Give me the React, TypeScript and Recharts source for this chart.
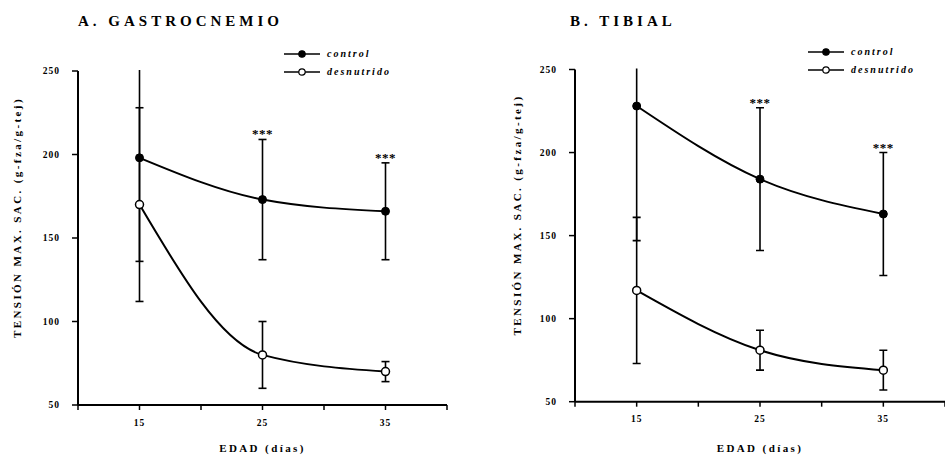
import React from 'react';
import { LineChart, Line, XAxis, YAxis, ErrorBar, ReferenceDot, Legend } from 'recharts';

// ---- data ----
const days = [15, 25, 35];
const xTicks = [10, 15, 20, 25, 30, 35, 40];
const xTickLabels: Record<number, string> = { 15: '15', 25: '25', 35: '35' };
const yTicks = [50, 100, 150, 200, 250];
const seriesNames = ['control', 'desnutrido'];

const gastroControl = [198, 173, 166];
const gastroControlErr = [62, 36, 29];
const gastroDesn = [170, 80, 70];
const gastroDesnErr = [58, 20, 6];
const gastroSig = [false, true, true];

const tibialControl = [228, 184, 163];
const tibialControlErr = [81, 43, 37];
const tibialDesn = [117, 81, 69];
const tibialDesnErr = [44, 12, 12];
const tibialSig = [false, true, true];

const yLabelText = 'TENSIÓN MAX. SAC. (g-fza/g-tej)';
const xLabelText = 'EDAD (días)';

const FONT = '"Liberation Serif", "Times New Roman", serif';
const Y_AXIS_W = 40;
const X_AXIS_H = 30;
const CHART_H = 456;

const buildRows = (c: number[], ce: number[], n: number[], ne: number[]) =>
  days.map((d, i) => ({ day: d, control: c[i], controlErr: ce[i], desn: n[i], desnErr: ne[i] }));

const YTick = (props: any) => {
  const { x, y, payload } = props;
  return (
    <text x={x} y={y} textAnchor="end" dominantBaseline="central" fontFamily={FONT} fontSize={9.5} fontWeight="bold" fill="#000" letterSpacing={1}>
      {payload.value}
    </text>
  );
};

const XTick = (props: any) => {
  const { x, y, payload } = props;
  const lab = xTickLabels[payload.value];
  if (!lab) return <g />;
  return (
    <text x={x} y={y} dy="0.71em" textAnchor="middle" fontFamily={FONT} fontSize={9.5} fontWeight="bold" fill="#000" letterSpacing={1}>
      {lab}
    </text>
  );
};

const StarLabel = (props: any) => {
  const vb = props.viewBox || {};
  const cx = (vb.x ?? 0) + (vb.width ?? 0) / 2;
  const cy = vb.y ?? 0;
  return (
    <text x={cx} y={cy - 1} textAnchor="middle" fontFamily={FONT} fontSize={13} fontWeight="bold" fill="#000" letterSpacing={0.5}>
      ***
    </text>
  );
};

type PanelProps = {
  id: string;
  title: string;
  rows: any[];
  sig: boolean[];
  left: number;
  width: number;
  plot: { top: number; right: number; bottom: number; left: number };
  yLabelDx: number;
  yLabelDy: number;
  xLabelDy: number;
  legendLeft: number;
  legendTop: number;
  titleLeft: number;
};

const LegendBox = () => (
  <div style={{ fontFamily: FONT }}>
    {seriesNames.map((name, i) => (
      <div key={name} style={{ display: 'flex', alignItems: 'center', height: 18 }}>
        <svg width={36} height={10} style={{ display: 'block' }}>
          <line x1={0} y1={5} x2={36} y2={5} stroke="#000" strokeWidth={1.5} />
          <circle cx={18} cy={5} r={3.2} fill={i === 0 ? '#000' : '#fff'} stroke="#000" strokeWidth={1.2} />
        </svg>
        <span style={{ marginLeft: 7, fontSize: 10, fontWeight: 'bold', fontStyle: 'italic', letterSpacing: 2, lineHeight: '10px' }}>
          {name}
        </span>
      </div>
    ))}
  </div>
);

const Panel = (p: PanelProps) => {
  const margin = {
    top: p.plot.top,
    right: p.plot.right,
    bottom: p.plot.bottom - X_AXIS_H,
    left: p.plot.left - Y_AXIS_W,
  };
  const clipId = 'plotclip-' + p.id;
  const plotW = p.width - p.plot.left - p.plot.right;
  const plotH = CHART_H - p.plot.top - p.plot.bottom;
  const yLabel = (props: any) => {
    const vb = props.viewBox;
    const x = vb.x + vb.width - p.yLabelDx;
    const y = vb.y + vb.height / 2 + p.yLabelDy;
    return (
      <text x={x} y={y} transform={`rotate(-90 ${x} ${y})`} textAnchor="middle" dominantBaseline="central" fontFamily={FONT} fontSize={11} fontWeight="bold" fill="#000" letterSpacing={2.4}>
        {yLabelText}
      </text>
    );
  };
  const xLabel = (props: any) => {
    const vb = props.viewBox;
    const x = vb.x + ((25 - xTicks[0]) / (xTicks[xTicks.length - 1] - xTicks[0])) * vb.width;
    const y = vb.y + p.xLabelDy;
    return (
      <text x={x} y={y} textAnchor="middle" dominantBaseline="central" fontFamily={FONT} fontSize={11} fontWeight="bold" fill="#000" letterSpacing={2.4}>
        {xLabelText}
      </text>
    );
  };
  const css = `#panel-${p.id} .recharts-errorBars, #panel-${p.id} .recharts-errorBar, #panel-${p.id} [class*="errorBar"], #panel-${p.id} [class*="error-bar"] { clip-path: url(#${clipId}); }`;
  return (
    <div id={'panel-' + p.id} style={{ position: 'absolute', left: p.left, top: 0, width: p.width, height: CHART_H }}>
      <style>{css}</style>
      <svg width={1} height={1} style={{ position: 'absolute', left: 0, top: 0, overflow: 'hidden' }}>
        <defs>
          <clipPath id={clipId} clipPathUnits="userSpaceOnUse">
            <rect x={p.plot.left - 10} y={p.plot.top - 1} width={plotW + 20} height={plotH + 2} />
          </clipPath>
        </defs>
      </svg>
      <div style={{ position: 'absolute', left: p.titleLeft, top: 14, fontFamily: FONT, fontSize: 15, fontWeight: 'bold', letterSpacing: 4, lineHeight: '15px', whiteSpace: 'nowrap' }}>
        {p.title}
      </div>
      <LineChart width={p.width} height={CHART_H} data={p.rows} margin={margin}>
        <XAxis
          dataKey="day"
          type="number"
          domain={[xTicks[0], xTicks[xTicks.length - 1]]}
          ticks={xTicks}
          allowDataOverflow
          height={X_AXIS_H}
          axisLine={{ stroke: '#000', strokeWidth: 2 }}
          tickLine={{ stroke: '#000', strokeWidth: 1.5 }}
          tickSize={5}
          tickMargin={9}
          tick={<XTick />}
          label={xLabel}
          interval={0}
        />
        <YAxis
          type="number"
          domain={[yTicks[0], yTicks[yTicks.length - 1]]}
          ticks={yTicks}
          allowDataOverflow
          width={Y_AXIS_W}
          axisLine={{ stroke: '#000', strokeWidth: 2 }}
          tickLine={{ stroke: '#000', strokeWidth: 1.5 }}
          tickSize={6}
          tickMargin={12}
          tick={<YTick />}
          label={yLabel}
          interval={0}
        />
        <Legend
          layout="vertical"
          align="center"
          verticalAlign="middle"
          content={() => <LegendBox />}
          wrapperStyle={{ position: 'absolute', left: p.legendLeft, top: p.legendTop, width: 140, height: 40 }}
        />
        <Line
          type="monotone"
          dataKey="desn"
          name="desnutrido"
          stroke="#000"
          strokeWidth={2}
          dot={{ r: 4, fill: '#fff', stroke: '#000', strokeWidth: 1.5 }}
          isAnimationActive={false}
        >
          <ErrorBar dataKey="desnErr" width={4} stroke="#000" strokeWidth={1.6} direction="y" isAnimationActive={false} />
        </Line>
        <Line
          type="monotone"
          dataKey="control"
          name="control"
          stroke="#000"
          strokeWidth={2}
          dot={{ r: 4, fill: '#000', stroke: '#000', strokeWidth: 1 }}
          isAnimationActive={false}
        >
          <ErrorBar dataKey="controlErr" width={4} stroke="#000" strokeWidth={1.6} direction="y" isAnimationActive={false} />
        </Line>
        {p.rows.map((r, i) =>
          p.sig[i] ? (
            <ReferenceDot
              key={'s' + i}
              x={r.day}
              y={r.control + r.controlErr}
              r={0}
              fill="none"
              stroke="none"
              label={<StarLabel />}
            />
          ) : null
        )}
      </LineChart>
    </div>
  );
};

export default function App() {
  const gastroRows = buildRows(gastroControl, gastroControlErr, gastroDesn, gastroDesnErr);
  const tibialRows = buildRows(tibialControl, tibialControlErr, tibialDesn, tibialDesnErr);
  return (
    <div style={{ position: 'absolute', left: 0, top: 0, width: 945, height: 456, overflow: 'hidden', background: '#fff' }}>
      <Panel
        id="a"
        title="A. GASTROCNEMIO"
        rows={gastroRows}
        sig={gastroSig}
        left={0}
        width={470}
        plot={{ top: 71, right: 23, bottom: 51, left: 78 }}
        yLabelDx={61}
        yLabelDy={-20.5}
        xLabelDy={43}
        legendLeft={284}
        legendTop={45}
        titleLeft={78}
      />
      <Panel
        id="b"
        title="B. TIBIAL"
        rows={tibialRows}
        sig={tibialSig}
        left={470}
        width={475}
        plot={{ top: 69.5, right: 0, bottom: 54.3, left: 105 }}
        yLabelDx={58}
        yLabelDy={-20.6}
        xLabelDy={46}
        legendLeft={338}
        legendTop={43}
        titleLeft={100}
      />
    </div>
  );
}
